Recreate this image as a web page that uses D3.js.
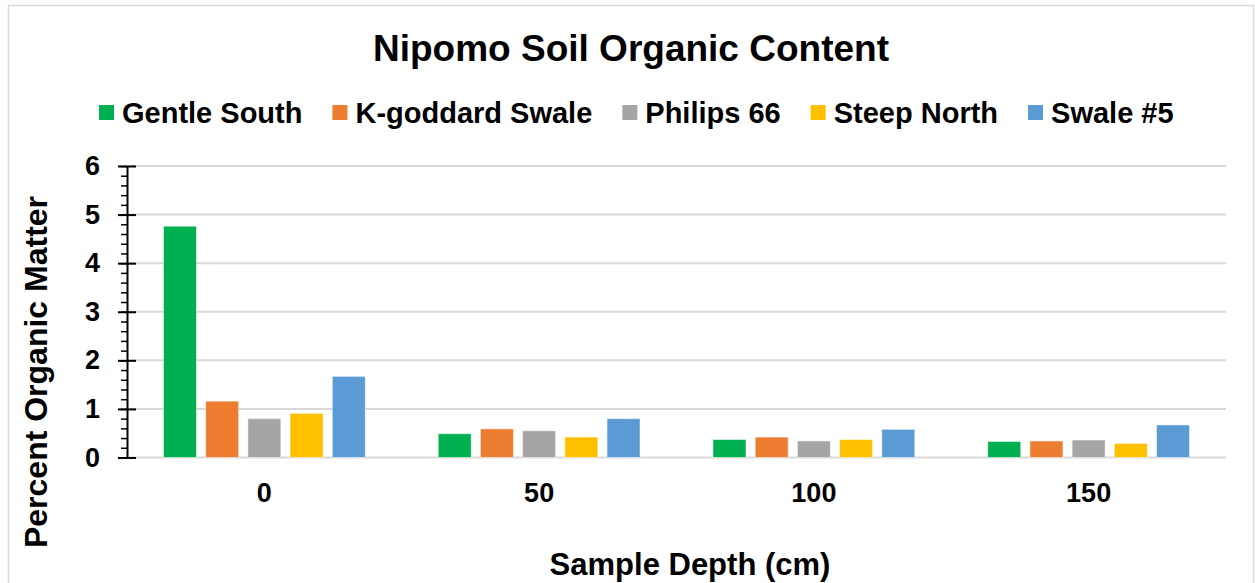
<!DOCTYPE html>
<html>
<head>
<meta charset="utf-8">
<script src="https://cdn.jsdelivr.net/npm/d3@7"></script>
<style>
  html, body { margin: 0; padding: 0; background: #fff; }
  svg { display: block; font-family: Arial, "Liberation Sans", sans-serif; }
</style>
</head>
<body>
<svg id="chart" width="1255" height="583"></svg>
<script>
const categories = ["0", "50", "100", "150"];
const seriesNames = ["Gentle South", "K-goddard Swale", "Philips 66", "Steep North", "Swale #5"];
const seriesColors = ["#00B050", "#ED7D31", "#A5A5A5", "#FFC000", "#5B9BD5"];
const gentleSouth = [4.76, 0.49, 0.37, 0.33];
const kGoddardSwale = [1.16, 0.59, 0.42, 0.34];
const philips66 = [0.80, 0.55, 0.34, 0.36];
const steepNorth = [0.91, 0.42, 0.37, 0.29];
const swale5 = [1.67, 0.80, 0.58, 0.67];
const yTicks = [0, 1, 2, 3, 4, 5, 6];
const titleText = "Nipomo Soil Organic Content";
const xTitle = "Sample Depth (cm)";
const yTitle = "Percent Organic Matter";

const seriesValues = [gentleSouth, kGoddardSwale, philips66, steepNorth, swale5];
const data = categories.map((c, i) => ({
  cat: c,
  vals: seriesNames.map((s, j) => ({ series: s, color: seriesColors[j], value: seriesValues[j][i] }))
}));

const svg = d3.select("#chart");
const plotLeft = 127, plotRight = 1226, plotTop = 166, plotBottom = 457.5;

// chart border
svg.append("rect").attr("x", 8.5).attr("y", 5.5).attr("width", 1245).attr("height", 620)
  .attr("fill", "#fff").attr("stroke", "#d9d9d9").attr("stroke-width", 1.5);

const y = d3.scaleLinear().domain([0, 6]).range([plotBottom, plotTop]);
const x0 = d3.scaleBand().domain(categories).range([plotLeft, plotRight]).paddingInner(0.232).paddingOuter(0.116);
const x1 = d3.scaleBand().domain(seriesNames).range([0, x0.bandwidth()]).paddingInner(0.218).paddingOuter(0.109);

// gridlines
svg.append("g").selectAll("line").data(yTicks).join("line")
  .attr("x1", plotLeft).attr("x2", plotRight)
  .attr("y1", d => y(d)).attr("y2", d => y(d))
  .attr("stroke", "#d9d9d9").attr("stroke-width", 2);

// bars
const groups = svg.append("g").selectAll("g").data(data).join("g")
  .attr("transform", d => `translate(${x0(d.cat)},0)`);
groups.selectAll("rect").data(d => d.vals).join("rect")
  .attr("x", d => x1(d.series))
  .attr("width", x1.bandwidth())
  .attr("y", d => y(d.value))
  .attr("height", d => plotBottom - y(d.value))
  .attr("fill", d => d.color)
  .attr("stroke", "#fff").attr("stroke-opacity", 0.5).attr("stroke-width", 1);

// y axis minor ticks
const minor = d3.range(0, 30.5, 1).map(d => d / 5);
svg.append("g").attr("transform", `translate(${plotLeft},0)`)
  .call(d3.axisLeft(y).tickValues(minor).tickSize(6).tickFormat(""))
  .call(g => g.select(".domain").remove())
  .selectAll("line").attr("stroke", "#000").attr("stroke-width", 1.5);

// y axis major
const yAxis = svg.append("g").attr("transform", `translate(${plotLeft},0)`)
  .call(d3.axisLeft(y).tickValues(yTicks).tickSizeInner(9).tickSizeOuter(0).tickPadding(18).tickFormat(d3.format("d")));
yAxis.select(".domain").attr("stroke", "#000").attr("stroke-width", 2);
yAxis.selectAll(".tick line").attr("stroke", "#000").attr("stroke-width", 2).attr("x2", -9).attr("x1", 9);
yAxis.selectAll(".tick text").attr("font-size", 27).attr("font-weight", "bold").attr("fill", "#000")
  .attr("font-family", "Arial, 'Liberation Sans', sans-serif");

// x axis labels
const xAxis = svg.append("g").attr("transform", `translate(0,${plotBottom})`)
  .call(d3.axisBottom(x0).tickSize(0).tickPadding(25));
xAxis.select(".domain").remove();
xAxis.selectAll(".tick text").attr("font-size", 27).attr("font-weight", "bold").attr("fill", "#000")
  .attr("font-family", "Arial, 'Liberation Sans', sans-serif");

// title
svg.append("text").attr("x", 631).attr("y", 61).attr("text-anchor", "middle")
  .attr("font-size", 37).attr("font-weight", "bold").text(titleText);

// axis titles
svg.append("text").attr("x", 690).attr("y", 575).attr("text-anchor", "middle")
  .attr("font-size", 31).attr("font-weight", "bold").text(xTitle);
svg.append("text").attr("transform", "translate(47,372) rotate(-90)").attr("text-anchor", "middle")
  .attr("font-size", 32).attr("font-weight", "bold").text(yTitle);

// legend
const legend = svg.append("g");
let lx = 99;
seriesNames.forEach((s, i) => {
  legend.append("rect").attr("x", lx).attr("y", 105).attr("width", 15).attr("height", 15).attr("fill", seriesColors[i]);
  const t = legend.append("text").attr("x", lx + 23).attr("y", 123)
    .attr("font-size", 29).attr("font-weight", "bold").text(s);
  lx += 23 + t.node().getComputedTextLength() + 30;
});
</script>
</body>
</html>
